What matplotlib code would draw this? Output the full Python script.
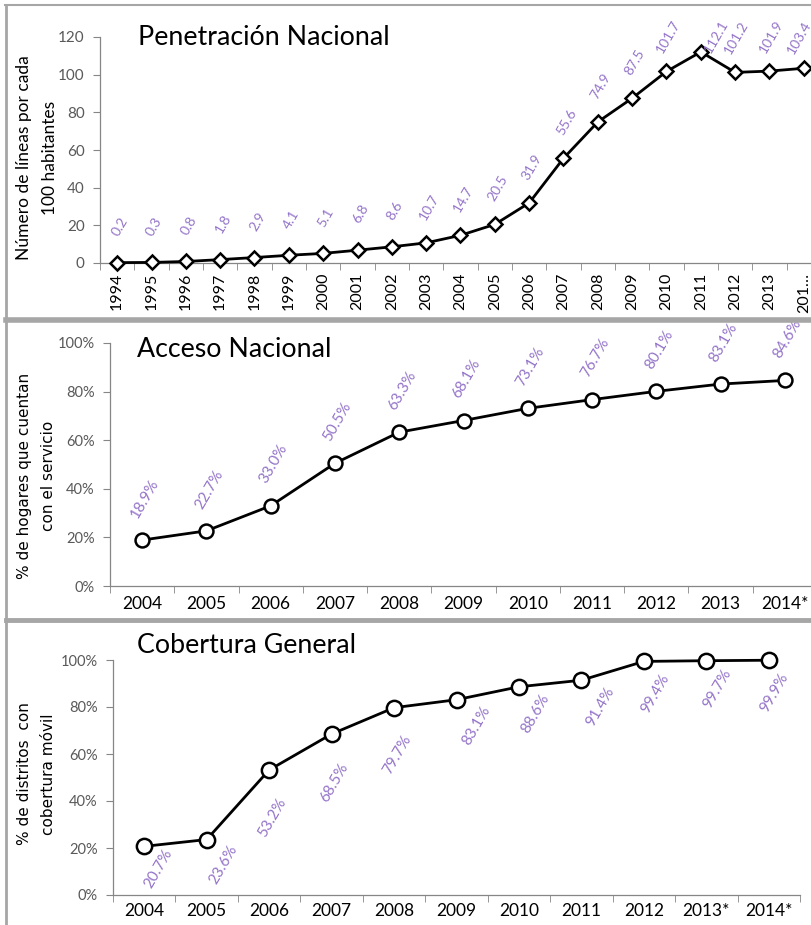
import matplotlib.pyplot as plt
from matplotlib.lines import Line2D

# Penetración Nacional (líneas por cada 100 habitantes)
pen_years = ['1994', '1995', '1996', '1997', '1998', '1999', '2000', '2001', '2002',
             '2003', '2004', '2005', '2006', '2007', '2008', '2009', '2010', '2011',
             '2012', '2013', '201…']
pen_values = [0.2, 0.3, 0.8, 1.8, 2.9, 4.1, 5.1, 6.8, 8.6, 10.7, 14.7, 20.5, 31.9,
              55.6, 74.9, 87.5, 101.7, 112.1, 101.2, 101.9, 103.4]

# Acceso Nacional (% de hogares)
acc_years = ['2004', '2005', '2006', '2007', '2008', '2009', '2010', '2011', '2012',
             '2013', '2014*']
acc_values = [18.9, 22.7, 33.0, 50.5, 63.3, 68.1, 73.1, 76.7, 80.1, 83.1, 84.6]

# Cobertura General (% de distritos)
cob_years = ['2004', '2005', '2006', '2007', '2008', '2009', '2010', '2011', '2012',
             '2013*', '2014*']
cob_values = [20.7, 23.6, 53.2, 68.5, 79.7, 83.1, 88.6, 91.4, 99.4, 99.7, 99.9]

W, H = 812, 925
FONT = 'Lato'
AXIS_GRAY = '#868686'
TICK_GRAY = '#595959'
LABEL_PURPLE = '#9474c9'
BORDER = '#a6a6a6'


def fx(px):
    return px / W


def fy(py):
    return 1 - py / H


def style_axis(ax, n, ylim, yticks, ylabels, ysize, xpad):
    for s in ['top', 'right']:
        ax.spines[s].set_visible(False)
    for s in ['left', 'bottom']:
        ax.spines[s].set_color(AXIS_GRAY)
        ax.spines[s].set_linewidth(0.9)
    ax.set_xlim(-0.5, n - 0.5)
    ax.set_ylim(*ylim)
    ax.set_yticks(yticks)
    ax.set_yticklabels(ylabels, family=FONT, fontsize=ysize, color=TICK_GRAY)
    ax.tick_params(axis='y', length=5, color=AXIS_GRAY, pad=6)
    ax.set_xticks(range(n))
    ax.set_xticks([i - 0.5 for i in range(n + 1)], minor=True)
    ax.tick_params(axis='x', which='major', length=0, pad=xpad)
    ax.tick_params(axis='x', which='minor', length=5, color=AXIS_GRAY)
    ax.patch.set_alpha(0)


def label_points(ax, vals, texts, dy, size, special=None):
    special = special or {}
    for i, (v, t) in enumerate(zip(vals, texts)):
        ox, oy = special.get(i, (2, dy))
        ax.annotate(t, (i, v), xytext=(ox, oy), textcoords='offset points',
                    ha='center', va='center', rotation=60, color=LABEL_PURPLE,
                    family=FONT, fontsize=size, annotation_clip=False)


fig = plt.figure(figsize=(W / 100, H / 100), dpi=100)

# --- Top: Penetración Nacional ---
ax1 = fig.add_axes([fx(100), fy(263), fx(721), (263 - 37) / H])
n1 = len(pen_years)
ax1.plot(range(n1), pen_values, color='black', lw=2, marker='D', ms=7,
         mfc='white', mec='black', mew=1.8, clip_on=False, zorder=3)
style_axis(ax1, n1, (0, 120), range(0, 121, 20), [str(v) for v in range(0, 121, 20)],
           11, 7)
ax1.set_xticklabels(pen_years, rotation=90, family=FONT, fontsize=11.5, color='black')
label_points(ax1, pen_values, [f'{v:.1f}' for v in pen_values], 26, 10,
             special={16: (1, 25), 17: (11, 11), 18: (1, 25), 19: (1, 25), 20: (-3, 22)})
fig.text(fx(138), fy(45), 'Penetración Nacional', family=FONT, fontsize=19.3,
         va='baseline', ha='left')
fig.text(fx(37), fy(158), 'Número de líneas por cada\n100 habitantes', family=FONT,
         fontsize=12.5, rotation=90, ha='center', va='center', multialignment='center',
         linespacing=1.75)

# --- Middle: Acceso Nacional ---
ax2 = fig.add_axes([fx(110), fy(586), fx(707), (586 - 343) / H])
n2 = len(acc_years)
ax2.plot(range(n2), acc_values, color='black', lw=2, marker='o', ms=10,
         mfc='white', mec='black', mew=1.8, clip_on=False, zorder=3)
style_axis(ax2, n2, (0, 100), range(0, 101, 20), [f'{v}%' for v in range(0, 101, 20)],
           10.5, 7)
ax2.set_xticklabels(acc_years, family=FONT, fontsize=12.5, color='black')
label_points(ax2, acc_values, [f'{v:.1f}%' for v in acc_values], 30, 11)
fig.text(fx(137), fy(357), 'Acceso Nacional', family=FONT, fontsize=19.3,
         va='baseline', ha='left')
fig.text(fx(36.5), fy(476), '% de hogares que cuentan\ncon el servicio',
         family='DejaVu Sans', fontsize=11, rotation=90, ha='center', va='center',
         multialignment='center', linespacing=1.75)

# --- Bottom: Cobertura General ---
ax3 = fig.add_axes([fx(113), fy(895), fx(687), (895 - 660) / H])
n3 = len(cob_years)
ax3.plot(range(n3), cob_values, color='black', lw=2, marker='o', ms=11,
         mfc='white', mec='black', mew=1.8, clip_on=False, zorder=3)
style_axis(ax3, n3, (0, 100), range(0, 101, 20), [f'{v}%' for v in range(0, 101, 20)],
           10.5, 6)
ax3.set_xticklabels(cob_years, family=FONT, fontsize=12.5, color='black')
label_points(ax3, cob_values, [f'{v:.1f}%' for v in cob_values], -19, 11,
             special={0: (10, -16), 1: (12, -18), 2: (2, -34), 3: (2, -35),
                      4: (2, -34), 5: (14, -19), 6: (12, -19), 7: (14, -19),
                      8: (8, -23), 9: (8, -20), 10: (4, -23)})
fig.text(fx(137), fy(653), 'Cobertura General', family=FONT, fontsize=19.3,
         va='baseline', ha='left')
fig.text(fx(36.5), fy(774), '% de distritos  con\ncobertura móvil',
         family='DejaVu Sans', fontsize=11, rotation=90, ha='center', va='center',
         multialignment='center', linespacing=1.75)

# panel borders
fig.add_artist(Line2D([fx(5), 1], [fy(5), fy(5)], color=BORDER, lw=1.5))
fig.add_artist(Line2D([fx(6), fx(6)], [0, fy(5)], color=BORDER, lw=2))
fig.add_artist(Line2D([fx(6), 1], [fy(320), fy(320)], color=BORDER, lw=4))
fig.add_artist(Line2D([fx(6), 1], [fy(620), fy(620)], color=BORDER, lw=3.5))

fig.savefig('out.png', dpi=100)
